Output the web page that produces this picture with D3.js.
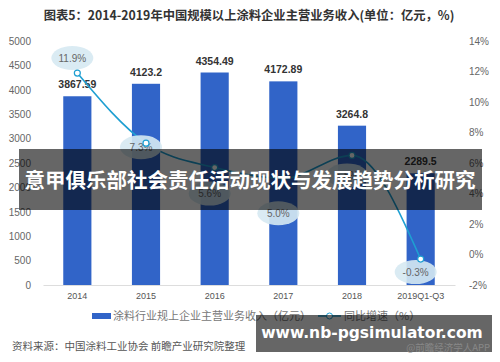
<!DOCTYPE html>
<html>
<head>
<meta charset="utf-8">
<script src="https://cdn.jsdelivr.net/npm/d3@7"></script>
<style>
  body { margin: 0; background: #fff; }
  svg { display: block; font-family: "Noto Sans CJK SC", "Noto Sans", sans-serif; }
</style>
</head>
<body>
<svg width="500" height="362"></svg>
<script>
// chart data
const years = ["2014", "2015", "2016", "2017", "2018", "2019Q1-Q3"];
const revenue = [3867.59, 4123.2, 4354.49, 4172.89, 3264.8, 2289.5];
const growth = [11.9, 7.3, 5.7, 5.0, 6.5, -0.3];
const growthText = ["11.9%", "7.3%", "5.6%", "5.0%", "6.5%", "-0.3%"];
const leftTicks = [0, 500, 1000, 1500, 2000, 2500, 3000, 3500, 4000, 4500, 5000];
const rightTicks = [-2, 0, 2, 4, 6, 8, 10, 12, 14];

// label offset from point (px)
const labelDy = [-15, 4, 26, 35, 20, 13];

const svg = d3.select("svg");
const plotLeft = 43, plotRight = 455, plotTop = 41, plotBottom = 285;

const x = d3.scaleBand().domain(years).range([plotLeft, plotRight]).paddingInner(0.59).paddingOuter(0.295);
const yL = d3.scaleLinear().domain([0, 5000]).range([plotBottom, plotTop]);
const yR = d3.scaleLinear().domain([-2, 14]).range([plotBottom, plotTop]);

// title
svg.append("text")
  .attr("x", 249).attr("y", 20)
  .attr("text-anchor", "middle")
  .attr("font-size", 12.3).attr("font-weight", "bold").attr("fill", "#333")
  .text("图表5：2014-2019年中国规模以上涂料企业主营业务收入(单位：亿元，%)");

// axes
const axL = svg.append("g").attr("transform", `translate(${plotLeft - 12},0)`)
  .call(d3.axisLeft(yL).tickValues(leftTicks).tickSize(0).tickPadding(0).tickFormat(d3.format("d")));
axL.select(".domain").remove();
axL.selectAll("text").attr("font-size", 10).attr("fill", "#666").attr("font-family", "Liberation Sans, Arial, sans-serif");

const axR = svg.append("g").attr("transform", `translate(469,0)`)
  .call(d3.axisRight(yR).tickValues(rightTicks).tickSize(0).tickPadding(0).tickFormat(d => d + "%"));
axR.select(".domain").remove();
axR.selectAll("text").attr("font-size", 10).attr("fill", "#666").attr("font-family", "Liberation Sans, Arial, sans-serif");

const axB = svg.append("g").attr("transform", `translate(0,${plotBottom})`)
  .call(d3.axisBottom(x).tickSize(0).tickPadding(8));
axB.select(".domain").attr("stroke", "#ddd");
axB.selectAll("text").attr("font-size", 9).attr("fill", "#555").attr("font-family", "Liberation Sans, Arial, sans-serif");

// bars
svg.append("g").selectAll("rect")
  .data(revenue)
  .join("rect")
  .attr("x", (d, i) => x(years[i]))
  .attr("y", d => yL(d))
  .attr("width", x.bandwidth())
  .attr("height", d => plotBottom - yL(d))
  .attr("fill", "#3164c8");

svg.append("g").selectAll("text")
  .data(revenue)
  .join("text")
  .attr("x", (d, i) => x(years[i]) + x.bandwidth() / 2)
  .attr("y", d => yL(d) - 8)
  .attr("text-anchor", "middle")
  .attr("font-size", 10.5).attr("font-weight", "bold").attr("fill", "#333")
  .attr("font-family", "Liberation Sans, Arial, sans-serif")
  .text(d => d);

// growth line
const cx = (d, i) => x(years[i]) + x.bandwidth() / 2;
const line = d3.line().x(cx).y(d => yR(d)).curve(d3.curveMonotoneX);

svg.append("path")
  .datum(growth)
  .attr("d", line)
  .attr("fill", "none")
  .attr("stroke", "#1e9fd2")
  .attr("stroke-width", 1.6);

// label bubbles
const lab = svg.append("g").selectAll("g")
  .data(growth)
  .join("g")
  .attr("transform", (d, i) => `translate(${cx(d, i) - 5},${yR(d) + labelDy[i]})`);
lab.append("ellipse").attr("rx", 21).attr("ry", 12).attr("fill", "#d6e9f2").attr("opacity", 0.9);
lab.append("text")
  .attr("text-anchor", "middle").attr("dy", "0.35em")
  .attr("font-size", 10).attr("fill", "#666")
  .attr("font-family", "Liberation Sans, Arial, sans-serif")
  .text((d, i) => growthText[i]);

svg.append("g").selectAll("circle")
  .data(growth)
  .join("circle")
  .attr("cx", cx)
  .attr("cy", d => yR(d))
  .attr("r", 3)
  .attr("fill", "#fff")
  .attr("stroke", "#1e9fd2")
  .attr("stroke-width", 1.2);

// legend
const lg = svg.append("g").attr("transform", "translate(92,316)");
lg.append("rect").attr("x", 0).attr("y", -3).attr("width", 19).attr("height", 6).attr("fill", "#3164c8");
lg.append("text").attr("x", 21).attr("y", 4).attr("font-size", 11).attr("fill", "#777")
  .text("涂料行业规上企业主营业务收入（亿元）");
lg.append("line").attr("x1", 226).attr("x2", 249).attr("y1", 0).attr("y2", 0).attr("stroke", "#1e9fd2").attr("stroke-width", 1.5);
lg.append("circle").attr("cx", 237.5).attr("cy", 0).attr("r", 3).attr("fill", "#fff").attr("stroke", "#1e9fd2");
lg.append("text").attr("x", 252).attr("y", 4).attr("font-size", 11).attr("fill", "#777")
  .text("同比增速（%）");

// source
svg.append("text").attr("x", 12).attr("y", 350).attr("font-size", 10.5).attr("fill", "#555")
  .text("资料来源：中国涂料工业协会 前瞻产业研究院整理");

// overlay banners
svg.append("rect").attr("x", 19).attr("y", 149).attr("width", 463).attr("height", 61).attr("fill", "rgba(0,0,0,0.6)");
svg.append("text").attr("x", 250).attr("y", 188).attr("text-anchor", "middle")
  .attr("font-size", 20.5).attr("font-weight", "bold").attr("fill", "#fff")
  .text("意甲俱乐部社会责任活动现状与发展趋势分析研究");

svg.append("rect").attr("x", 256).attr("y", 315).attr("width", 236).attr("height", 37).attr("fill", "rgba(0,0,0,0.6)");
svg.append("text").attr("x", 490).attr("y", 351).attr("text-anchor", "end").attr("font-size", 9.5).attr("fill", "#888")
  .text("@前瞻经济学人APP");
svg.append("text").attr("x", 372).attr("y", 338).attr("text-anchor", "middle")
  .attr("font-size", 15.5).attr("font-weight", "bold").attr("fill", "#fff")
  .attr("font-family", "DejaVu Sans, sans-serif")
  .text("www.nb-pgsimulator.com");
</script>
</body>
</html>
